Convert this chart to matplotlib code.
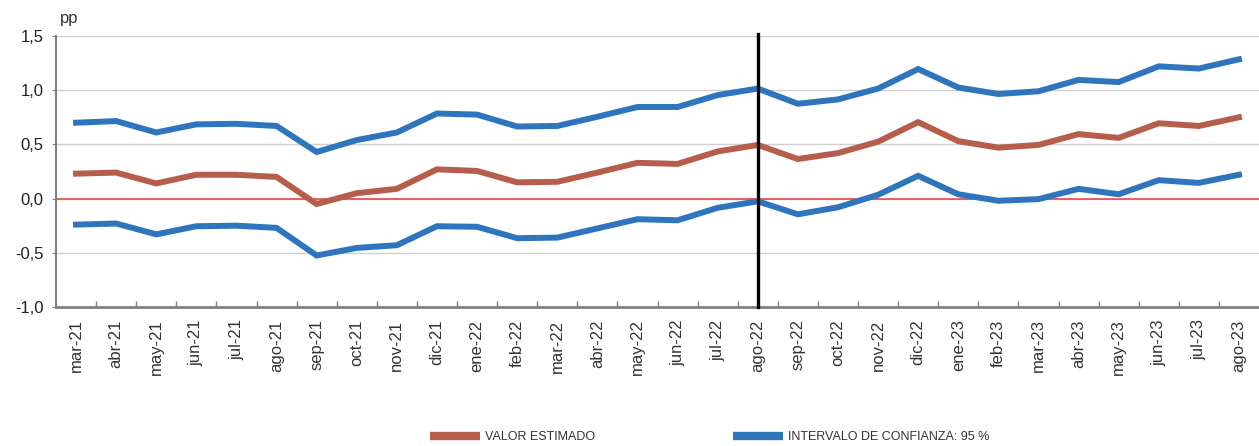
import matplotlib
matplotlib.use("Agg")
import matplotlib.pyplot as plt
from matplotlib.lines import Line2D

# months on the x axis
meses = ["mar-21", "abr-21", "may-21", "jun-21", "jul-21", "ago-21", "sep-21", "oct-21",
         "nov-21", "dic-21", "ene-22", "feb-22", "mar-22", "abr-22", "may-22", "jun-22",
         "jul-22", "ago-22", "sep-22", "oct-22", "nov-22", "dic-22", "ene-23", "feb-23",
         "mar-23", "abr-23", "may-23", "jun-23", "jul-23", "ago-23"]

# estimated value (pp)
valor = [0.23, 0.24, 0.14, 0.22, 0.22, 0.20, -0.05, 0.05, 0.09, 0.27, 0.255, 0.15,
         0.155, 0.24, 0.33, 0.32, 0.435, 0.495, 0.365, 0.42, 0.525, 0.705, 0.53, 0.47,
         0.495, 0.595, 0.56, 0.695, 0.67, 0.75]

# 95% confidence band
superior = [0.70, 0.715, 0.61, 0.685, 0.69, 0.67, 0.43, 0.54, 0.61, 0.785, 0.775, 0.665,
            0.67, 0.755, 0.845, 0.845, 0.955, 1.015, 0.875, 0.915, 1.015, 1.195, 1.025, 0.965,
            0.99, 1.095, 1.075, 1.22, 1.20, 1.285]
inferior = [-0.24, -0.23, -0.33, -0.255, -0.25, -0.27, -0.525, -0.455, -0.43, -0.255, -0.26, -0.365,
            -0.36, -0.275, -0.19, -0.20, -0.085, -0.025, -0.145, -0.08, 0.035, 0.21, 0.04, -0.02,
            -0.005, 0.09, 0.04, 0.17, 0.145, 0.22]

corte = "ago-22"
yticks = [-1.0, -0.5, 0.0, 0.5, 1.0, 1.5]

rojo = "#b75d4b"
azul = "#2e75be"

plt.rcParams["font.family"] = "Liberation Sans"

fig = plt.figure(figsize=(12.59, 4.46), dpi=100)
ax = fig.add_axes([56 / 1259, 1 - 307 / 446, 1 - 56 / 1259, (307 - 36) / 446])

x = list(range(len(meses)))
ax.axhline(0, color="#e8474c", lw=1.2, zorder=2)
ax.plot(x, superior, color=azul, lw=4.3, solid_joinstyle="miter", zorder=3)
ax.plot(x, inferior, color=azul, lw=4.3, solid_joinstyle="miter", zorder=3)
ax.plot(x, valor, color=rojo, lw=4.3, solid_joinstyle="miter", zorder=4)
ax.axvline(meses.index(corte), color="black", lw=2.4, ymax=1.008, clip_on=False, zorder=5)

ax.set_xlim(-0.5, len(meses) - 0.5)
ax.set_ylim(-1.0, 1.5)
ax.set_yticks(yticks)
ax.set_yticklabels([f"{v:.1f}".replace(".", ",") for v in yticks], fontsize=12, color="#222222")
ax.set_xticks(x)
ax.set_xticklabels(meses, rotation=90, fontsize=12, color="#333333")
ax.set_xticks([i + 0.5 for i in x[:-1]], minor=True)
ax.tick_params(axis="x", which="major", length=0, pad=9)
ax.tick_params(axis="x", which="minor", direction="in", length=4, color="#808080", width=1)
ax.tick_params(axis="y", length=3, color="#808080", pad=6)

ax.grid(axis="y", color="#d0d0d0", lw=1)
ax.set_axisbelow(True)
for s in ["top", "right"]:
    ax.spines[s].set_visible(False)
ax.spines["left"].set_color("#808080")
ax.spines["left"].set_linewidth(1.5)
ax.spines["bottom"].set_color("#808080")
ax.spines["bottom"].set_linewidth(2)

fig.text(60 / 1259, 1 - 18 / 446, "pp", fontsize=12, color="#333333", va="center")

# two legend entries placed separately like the original
etiquetas = ["VALOR ESTIMADO", "INTERVALO DE CONFIANZA: 95 %"]
colores = [rojo, azul]
x_leyenda = [430, 733]
for etq, col, xl in zip(etiquetas, colores, x_leyenda):
    fig.legend([Line2D([], [], color=col, lw=6, solid_capstyle="butt")], [etq],
               loc="center left", bbox_to_anchor=(xl / 1259, 1 - 437 / 446),
               frameon=False, handlelength=4.0, handletextpad=0.4,
               borderpad=0, borderaxespad=0, prop={"size": 9}, labelcolor="#333333")

fig.savefig("out.png", dpi=100)
